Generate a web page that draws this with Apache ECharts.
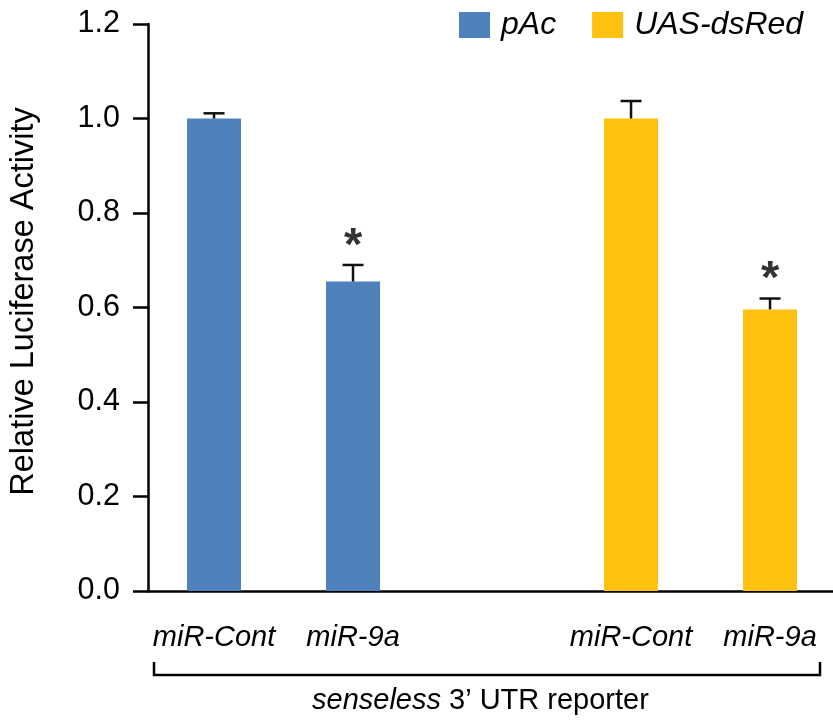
<!DOCTYPE html>
<html>
<head>
<meta charset="utf-8">
<script src="https://cdn.jsdelivr.net/npm/echarts@6/dist/echarts.min.js"></script>
<style>html,body{margin:0;padding:0;background:#fff}#c{width:833px;height:721px}</style>
</head>
<body>
<div id="c"></div>
<script>
// Data
var categories = ['miR-Cont', 'miR-9a', '', 'miR-Cont', 'miR-9a'];
var pAcValues = [1.0, 0.655];
var pAcErrors = [0.011, 0.035];
var uasValues = [1.0, 0.596];
var uasErrors = [0.037, 0.023];
var pAcSlots = [0, 1];
var uasSlots = [3, 4];
var significant = [false, true, false, true]; // pAc0, pAc1, uas0, uas1
var yTicks = [0, 0.2, 0.4, 0.6, 0.8, 1.0, 1.2];

var FONT = '"Liberation Sans", Arial, sans-serif';
var BLUE = '#4F81BD';
var YELLOW = '#FEC10F';

function toPairs(slots, vals) {
  return slots.map(function (s, i) { return [s + 1, vals[i]]; });
}
var errData = [];
pAcSlots.forEach(function (s, i) { errData.push([s + 1, pAcValues[i], pAcValues[i] + pAcErrors[i]]); });
uasSlots.forEach(function (s, i) { errData.push([s + 1, uasValues[i], uasValues[i] + uasErrors[i]]); });
var starData = errData.filter(function (d, i) { return significant[i]; }).map(function (d) { return [d[0], d[2]]; });

var chart = echarts.init(document.getElementById('c'), null, { renderer: 'canvas' });
chart.setOption({
  animation: false,
  backgroundColor: '#fff',
  textStyle: { fontFamily: FONT },
  grid: { left: 148, right: 0, top: 24, bottom: 130, containLabel: false },
  legend: {
    left: 459, top: 9, padding: 0,
    itemWidth: 31, itemHeight: 26, itemGap: 36,
    icon: 'rect',
    textStyle: { fontFamily: FONT, fontSize: 32, fontStyle: 'italic', color: '#000', padding: [0, 0, 0, 6] },
    data: ['pAc', 'UAS-dsRed']
  },
  xAxis: {
    type: 'value', min: 0.525, max: 5.453,
    splitLine: { show: false },
    axisLine: { show: true, onZero: true, lineStyle: { color: '#000', width: 2.5 } },
    axisTick: { show: false },
    axisLabel: {
      customValues: [1, 2, 4, 5],
      formatter: function (v) { return categories[Math.round(v) - 1]; },
      fontFamily: FONT, fontSize: 29, fontStyle: 'italic', color: '#000', margin: 32
    }
  },
  yAxis: {
    type: 'value', min: 0, max: 1.2, interval: 0.2,
    name: 'Relative Luciferase Activity',
    nameLocation: 'middle', nameGap: 107, nameRotate: 90,
    nameTextStyle: { fontFamily: FONT, fontSize: 32.5, color: '#000', padding: [0, 0, 0, 12] },
    splitLine: { show: false },
    axisLine: { show: true, lineStyle: { color: '#000', width: 2.5 } },
    axisTick: { show: true, inside: false, length: 15, lineStyle: { color: '#000', width: 2.5 } },
    axisLabel: {
      fontFamily: FONT, fontSize: 30.5, color: '#000', margin: 28,
      formatter: function (v) { return v.toFixed(1); }
    }
  },
  series: [
    {
      name: 'pAc', type: 'bar', barWidth: 54, barGap: '-100%',
      itemStyle: { color: BLUE },
      data: toPairs(pAcSlots, pAcValues)
    },
    {
      name: 'UAS-dsRed', type: 'bar', barWidth: 54, barGap: '-100%',
      itemStyle: { color: YELLOW },
      data: toPairs(uasSlots, uasValues)
    },
    {
      type: 'custom', name: 'err', z: 5,
      renderItem: function (params, api) {
        var x = api.value(0);
        var p0 = api.coord([x, api.value(1)]);
        var p1 = api.coord([x, api.value(2)]);
        var cap = 10.5;
        var style = { stroke: '#111', lineWidth: 2.5, fill: null };
        return {
          type: 'group',
          children: [
            { type: 'line', shape: { x1: p0[0], y1: p0[1], x2: p1[0], y2: p1[1] }, style: style },
            { type: 'line', shape: { x1: p1[0] - cap, y1: p1[1], x2: p1[0] + cap, y2: p1[1] }, style: style }
          ]
        };
      },
      encode: { x: 0, y: [1, 2] },
      data: errData
    },
    {
      type: 'scatter', name: 'sig', symbolSize: 1,
      itemStyle: { color: 'rgba(0,0,0,0)' },
      label: {
        show: true, position: 'top', distance: -6,
        formatter: '*', fontFamily: FONT, fontSize: 47, fontWeight: 'bold', color: '#000'
      },
      data: starData
    }
  ],
  graphic: [
    {
      type: 'polyline',
      shape: { points: [[154, 662], [154, 675], [820, 675], [820, 662]] },
      style: { stroke: '#000', lineWidth: 2.5, fill: null }
    },
    {
      type: 'text', x: 312, y: 701,
      style: {
        text: '{i|senseless} 3’ UTR reporter',
        font: '29px ' + FONT, fill: '#000', align: 'left', verticalAlign: 'middle',
        rich: { i: { fontStyle: 'italic', fontSize: 29, fontFamily: FONT } }
      }
    }
  ]
});
</script>
</body>
</html>
